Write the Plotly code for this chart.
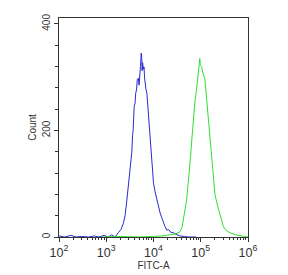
import plotly.graph_objects as go

# Blue histogram (control)
blue_fitc = [100, 130, 180, 230, 300, 420, 560, 700, 900, 1100, 1300, 1530, 1800, 2050, 2290, 2500,
             2692, 2900, 3162, 3300, 3467, 3600, 3715, 3900, 4074, 4200, 4365, 4550, 4786, 4950,
             5129, 5300, 5500, 5623, 5750, 5888, 6100, 6310, 6450, 6607, 6900, 7244, 7500, 7762,
             8100, 8511, 8800, 9120, 9500, 10000, 10800, 11749, 12700, 13804, 15000, 16218, 17500,
             19055, 21000, 23000, 26303, 30000, 36308, 45000, 56234, 80000]
blue_count = [2, 0, 3, 0, 1, 0, 2, 0, 3, 0, 4, 0, 8, 14, 25, 40,
              64, 95, 120, 150, 158, 190, 201, 245, 251, 270, 276, 296, 298, 285,
              300, 320, 345, 338, 312, 327, 315, 319, 300, 289, 278, 270, 250, 233,
              210, 182, 160, 139, 118, 101, 85, 69, 56, 45, 36, 26, 20,
              13, 14, 9, 8, 5, 2, 1, 0, 0]

# Green histogram (stained)
green_fitc = [800, 2000, 5000, 10000, 15000, 22387, 30000, 36308, 40000, 42658, 46000, 50119, 54000,
              58884, 62000, 64565, 69183, 72000, 75858, 81283, 85000, 89125, 92000, 95499, 98000,
              104713, 108000, 112202, 117000, 123027, 127000, 131826, 138000, 144544, 150000,
              158489, 165000, 173780, 180000, 186209, 200000, 218776, 240000, 257040, 280000,
              301995, 350000, 416869, 550000, 676083, 850000, 1000000]
green_count = [0, 1, 0, 1, 2, 4, 6, 10, 18, 32, 50, 69, 100,
               132, 160, 182, 220, 240, 257, 276, 290, 308, 325, 335, 322,
               320, 312, 308, 300, 295, 280, 263, 240, 220, 200,
               182, 160, 139, 120, 101, 80, 64, 50, 38, 28,
               19, 12, 8, 4, 2, 1, 0]

y_ticks = [0, 200, 400]

fig = go.Figure()
fig.add_trace(go.Scatter(x=blue_fitc, y=blue_count, mode="lines",
                         line=dict(color="#2a2ad0", width=1), showlegend=False))
fig.add_trace(go.Scatter(x=green_fitc, y=green_count, mode="lines",
                         line=dict(color="#2ee02e", width=1), showlegend=False))

font = dict(family="Liberation Sans, Arial, sans-serif", size=10, color="#333333")

fig.update_layout(
    width=288, height=275,
    margin=dict(l=59, r=40, t=18, b=38, autoexpand=False),
    paper_bgcolor="white", plot_bgcolor="white",
    font=font,
    xaxis=dict(
        type="log", range=[2, 6], dtick=1, exponentformat="power",
        showgrid=False, zeroline=False, automargin=False,
        showline=True, linecolor="#333333", linewidth=1, mirror=True,
        ticks="outside", ticklen=4, tickcolor="#333333",
        minor=dict(ticks="outside", ticklen=2, tickcolor="#333333", showgrid=False),
        title=dict(text="FITC-A", standoff=2, font=dict(size=10)),
        tickfont=dict(size=10),
    ),
    yaxis=dict(
        range=[0, 411], tickvals=y_ticks,
        showgrid=False, zeroline=False, automargin=False,
        showline=True, linecolor="#333333", linewidth=1, mirror=True,
        ticks="outside", ticklen=4, tickcolor="#333333", tickangle=-90,
        minor=dict(dtick=40, ticks="outside", ticklen=3, tickcolor="#333333", showgrid=False),
        title=dict(text="Count", standoff=2, font=dict(size=10)),
        tickfont=dict(size=10),
    ),
)

fig.write_html("out.html")
